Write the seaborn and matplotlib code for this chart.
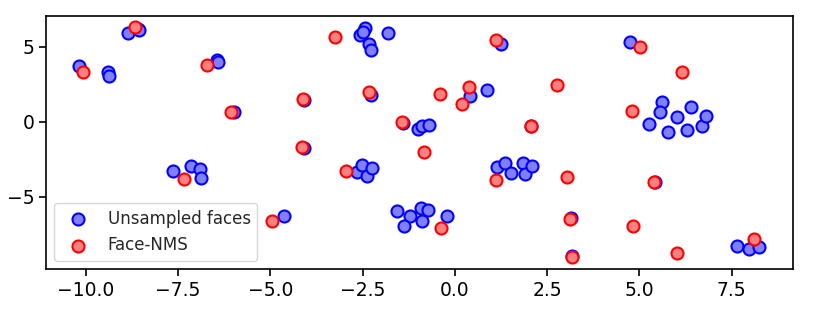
import matplotlib
matplotlib.use("Agg")
import matplotlib.pyplot as plt
import seaborn as sns
import pandas as pd

# Unsampled faces (blue)
blue_x = [-10.18, -9.41, -9.37, -8.85, -8.58, -8.55,
          -6.46, -6.41, -5.98, -4.08, -4.10,
          -2.56, -2.44, -2.48, -2.32, -2.28, -1.80,
          -2.28, -1.40, -0.99, -0.90, -0.70,
          0.41, 0.87, 1.25, 2.07, 4.75,
          5.62, 5.56, 5.26, 5.76, 6.02, 6.40, 6.30, 6.69, 6.79,
          -7.63, -7.14, -6.91, -6.88,
          -2.64, -2.53, -2.38, -2.24,
          -4.63,
          -1.56, -1.22, -1.38, -0.93, -0.74, -0.88, -0.22,
          1.15, 1.37, 1.53, 1.85, 1.90, 2.10,
          5.42, 3.14, 3.16,
          7.65, 7.97, 8.24]
blue_y = [3.71, 3.33, 3.07, 5.89, 6.18, 6.10,
          4.11, 4.00, 0.65, 1.45, -1.75,
          5.80, 6.25, 5.98, 5.18, 4.80, 5.91,
          1.80, -0.10, -0.51, -0.27, -0.22,
          1.71, 2.09, 5.20, -0.32, 5.31,
          1.33, 0.67, -0.15, -0.67, 0.31, 1.00, -0.55, -0.27, 0.40,
          -3.29, -2.95, -3.15, -3.77,
          -3.38, -2.93, -3.60, -3.11,
          -6.31,
          -5.97, -6.33, -6.95, -5.77, -5.93, -6.62, -6.29,
          -3.06, -2.78, -3.40, -2.73, -3.53, -2.95,
          -4.02, -6.45, -9.00,
          -8.31, -8.51, -8.37]

# Face-NMS (red)
red_x = [-10.09, -8.67, -6.73, -6.07, -4.11, -4.14, -3.24, -2.34, -1.44,
         -0.84, -0.41, 0.18, 0.39, 1.11, 2.05, 2.76, 5.01, 6.15, 4.80,
         -7.34, -2.94, -4.96, -0.37, 1.12, 3.03, 5.40, 3.12, 3.18, 4.83,
         6.03, 8.10]
red_y = [3.31, 6.29, 3.78, 0.67, 1.51, -1.70, 5.67, 1.96, 0.00,
         -2.04, 1.83, 1.16, 2.33, 5.45, -0.29, 2.47, 4.96, 3.29, 0.73,
         -3.84, -3.33, -6.64, -7.07, -3.89, -3.71, -4.06, -6.49, -9.04, -7.00,
         -8.80, -7.84]

labels = ["Unsampled faces", "Face-NMS"]

sns.set_style("ticks")
plt.rcParams['font.family'] = ['DejaVu Sans']

fig = plt.figure(figsize=(8.14, 3.12), dpi=100)
ax = fig.add_axes([0.0565, 0.1378, 0.9177, 0.8109])

df_blue = pd.DataFrame({"x": blue_x, "y": blue_y})
df_red = pd.DataFrame({"x": red_x, "y": red_y})

sns.scatterplot(data=df_blue, x="x", y="y", ax=ax, s=75, color="#8080ff",
                edgecolor="blue", linewidth=1.5, label=labels[0], zorder=2)
sns.scatterplot(data=df_red, x="x", y="y", ax=ax, s=75, color="#ff8080",
                edgecolor="red", linewidth=1.5, label=labels[1], zorder=3)

ax.set_xlim(-11.08, 9.16)
ax.set_ylim(-9.84, 7.05)
ax.set_xticks([-10.0, -7.5, -5.0, -2.5, 0.0, 2.5, 5.0, 7.5])
ax.set_yticks([-5, 0, 5])
ax.set_xlabel("")
ax.set_ylabel("")
ax.tick_params(labelsize=13.5, colors="black", length=5, width=1.2)
for sp in ax.spines.values():
    sp.set_color("black")
    sp.set_linewidth(1.2)

leg = ax.legend(loc="lower left", fontsize=12, frameon=True)
leg.get_frame().set_edgecolor("#cccccc")

fig.savefig("out.png", dpi=100)
